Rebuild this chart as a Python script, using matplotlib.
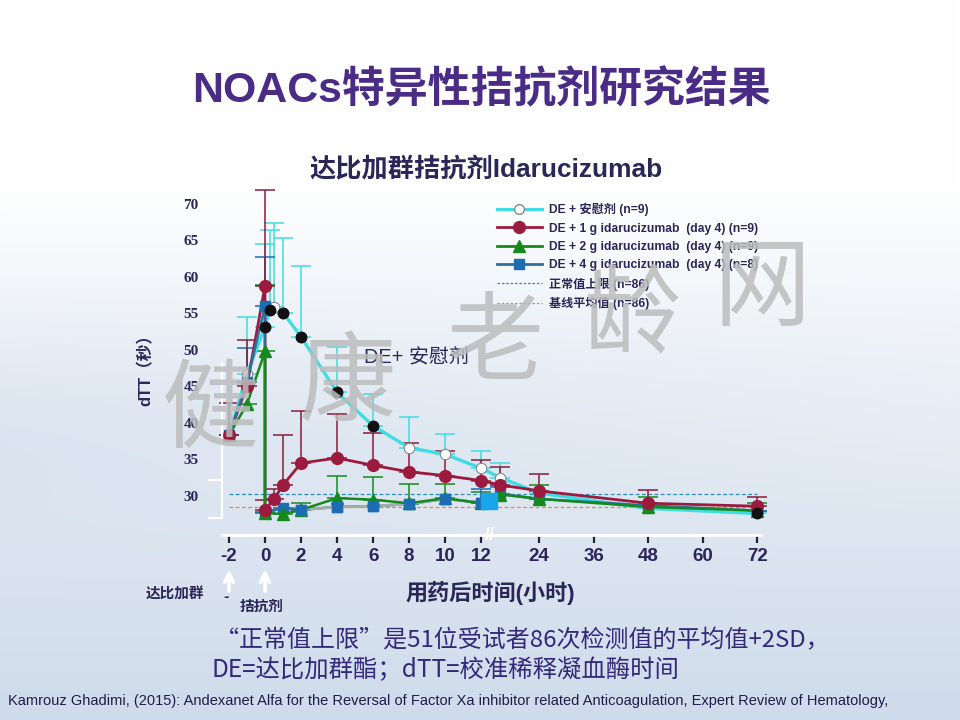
import numpy as np
import matplotlib
matplotlib.use("Agg")
import matplotlib.pyplot as plt
from matplotlib.lines import Line2D
from matplotlib.font_manager import FontProperties

plt.rcParams['font.family'] = ['Liberation Sans', 'Noto Sans CJK SC', 'DejaVu Sans']

# x axis is broken: 0-12 h stretched, 12-72 h squeezed
hour_knots = [-10, -2, 12, 24, 72, 100]
unit_knots = [-10, -2, 12, 15.22, 27.33, 34.39]

def fwd(h):
    return np.interp(h, hour_knots, unit_knots)

def inv(u):
    return np.interp(u, unit_knots, hour_knots)

xticks = [-2, 0, 2, 4, 6, 8, 10, 12, 24, 36, 48, 60, 72]
yticks = [30, 35, 40, 45, 50, 55, 60, 65, 70]
nan = np.nan

# DE + placebo
plc_t = [-2, -1, 0, 0.25, 0.5, 1, 2, 4, 6, 8, 10, 12, 16, 24, 48, 72]
plc_v = [38.3, 46.7, 53.2, 55.5, 55.9, 55.1, 51.8, 44.2, 39.6, 36.6, 35.7, 33.8, 32.5, 30.4, 28.3, 27.6]
plc_hi = [nan, 54.5, 64.5, 66.4, 67.4, 65.3, 61.5, 50.4, 43.9, 40.8, 38.5, 36.1, 34.5, nan, nan, nan]
plc_black = [0, 0, 1, 1, 0, 1, 1, 1, 1, 0, 0, 0, 0, 0, 0, 1]

# DE + 1 g idarucizumab
red_t = [-2, -1, 0, 0, 0.5, 1, 2, 4, 6, 8, 10, 12, 16, 24, 48, 72]
red_v = [38.3, 45.1, 58.8, 28.1, 29.6, 31.5, 34.5, 35.2, 34.2, 33.3, 32.8, 32.1, 31.5, 30.7, 29.0, 28.6]
red_hi = [42.8, 51.3, 71.9, 29.5, 31.0, 38.4, 41.7, 41.2, 38.6, 37.2, 36.1, 34.9, 33.9, 33.0, 30.8, 29.9]

# DE + 2 g idarucizumab
grn_t = [-2, -1, 0, 0, 1, 2, 4, 6, 8, 10, 12, 16, 24, 48, 72]
grn_v = [38.3, 42.6, 49.8, 27.7, 27.5, 28.1, 29.7, 29.5, 29.0, 29.7, 29.0, 30.2, 29.6, 28.5, 28.0]
grn_hi = [nan, nan, 58.9, nan, nan, 29.1, 32.8, 32.6, 31.7, 31.6, 30.5, nan, 31.5, 29.9, 29.1]

# DE + 4 g idarucizumab
blu_t = [-2, -1, 0, 0, 1, 2, 4, 6, 8, 10, 12, 16, 24, 48, 72]
blu_v = [38.3, 45.6, 56.0, 27.8, 28.3, 28.1, 28.5, 28.6, 28.9, 29.6, 29.1, 30.3, 29.6, 28.7, 28.0]
blu_hi = [nan, 50.3, 62.7, nan, nan, nan, nan, nan, nan, nan, 31.0, 31.2, nan, nan, nan]

upper_normal = 30.3
baseline_mean = 28.5
stray_t = [13.7]
stray_v = [29.25]

legend_labels = ['DE + 安慰剂 (n=9)',
                 'DE + 1 g idarucizumab  (day 4) (n=9)',
                 'DE + 2 g idarucizumab  (day 4) (n=9)',
                 'DE + 4 g idarucizumab  (day 4) (n=8)',
                 '正常值上限 (n=86)',
                 '基线平均值 (n=86)']

c_cyan = '#3ddde3'
c_red = '#9c1a3e'
c_grn = '#158a1c'
c_blu = '#1c6db3'
navy = '#2a2657'

W, H = 960, 720
fig = plt.figure(figsize=(9.6, 7.2), dpi=100)

def fx(x):
    return x / W

def fy(y):
    return 1 - y / H

# background gradient
gy = np.linspace(0, 1, 360)[:, None]
gx = np.linspace(0, 1, 480)[None, :]
t = np.clip((gy - 0.26) / 0.74, 0, 1) ** 0.85
t = np.clip(t + 0.22 * np.exp(-((gy - 0.58) / 0.14) ** 2) * (1 - gx), 0, 1)
top_c = np.array([1.0, 1.0, 1.0])
bot_c = np.array([0.81, 0.86, 0.92])
img = top_c[None, None, :] * (1 - t[..., None]) + bot_c[None, None, :] * t[..., None]
bg = fig.add_axes([0, 0, 1, 1], zorder=-5)
bg.imshow(img, aspect='auto', extent=[0, 1, 0, 1])
bg.axis('off')

ax = fig.add_axes([fx(211), fy(535.4), fx(558), 353.4 / H])
ax.set_facecolor('none')
ax.set_xscale('function', functions=(fwd, inv))
ax.set_xlim(-3, 74.6)
ax.set_ylim(24.6, 73)

def upper(v, hi):
    v = np.array(v, float)
    hi = np.array(hi, float)
    return [np.zeros_like(v), hi - v]

# reference lines
ax.hlines(upper_normal, -2, 72, colors='#2a8cb4', linestyles=(0, (3, 2)), lw=0.9, zorder=2)
ax.hlines(baseline_mean, -2, 72, colors='#e8893a', linestyles=(0, (3, 2)), lw=0.9, zorder=2)

# error bars (upper only)
ax.errorbar(plc_t, plc_v, yerr=upper(plc_v, plc_hi), fmt='none', ecolor=c_cyan, elinewidth=1.1, capsize=7, capthick=1.1, zorder=3)
ax.errorbar(grn_t, grn_v, yerr=upper(grn_v, grn_hi), fmt='none', ecolor=c_grn, elinewidth=1.1, capsize=7, capthick=1.1, zorder=3)
ax.errorbar(blu_t, blu_v, yerr=upper(blu_v, blu_hi), fmt='none', ecolor=c_blu, elinewidth=1.1, capsize=7, capthick=1.1, zorder=3)
ax.errorbar(red_t, red_v, yerr=upper(red_v, red_hi), fmt='none', ecolor='#8a1c3a', elinewidth=1.1, capsize=7, capthick=1.1, zorder=3)

# series
ax.plot(plc_t, plc_v, color=c_cyan, lw=2.4, marker='o', ms=7.5, mfc='white', mec='#888888', mew=0.8, zorder=4)
blk = np.array(plc_black, bool)
ax.plot(np.array(plc_t)[blk], np.array(plc_v)[blk], ls='none', marker='o', ms=7.5, color='#111111', zorder=7)
ax.plot(red_t, red_v, color=c_red, lw=2.0, zorder=4.5)
ax.plot(blu_t, blu_v, color='#2f6f9e', lw=1.8, marker='s', ms=6.5, mfc=c_blu, mec=c_blu, zorder=5)
mid = slice(5, 11)
ax.plot(blu_t[mid], blu_v[mid], color='#a4aea6', lw=2.0, zorder=5.1)
ax.plot(grn_t, grn_v, color=c_grn, lw=1.8, marker='^', ms=8, zorder=5.3)
ax.plot(blu_t[mid], blu_v[mid], ls='none', marker='s', ms=6.5, color=c_blu, zorder=5.6)
ax.plot(red_t, red_v, ls='none', marker='o', ms=8.5, color=c_red, zorder=6)
ax.plot(stray_t, stray_v, ls='none', marker='s', ms=12, color='#19a5ea', zorder=6.5)

note_pl = ax.text(5.5, 48.9, 'DE+ 安慰剂', fontsize=13, color=navy, va='center', zorder=8)

# axes styling
for s in ['top', 'right', 'left']:
    ax.spines[s].set_visible(False)
ax.spines['bottom'].set_color('white')
ax.spines['bottom'].set_linewidth(2)
ax.spines['bottom'].set_bounds(-2.4, 72.8)
ax.set_xticks(xticks)
ax.set_xticklabels([str(v) for v in xticks])
ax.set_yticks(yticks)
ax.set_yticklabels([str(v) for v in yticks])
ax.xaxis.set_minor_locator(matplotlib.ticker.NullLocator())
ax.tick_params(axis='x', direction='out', length=6, width=1.6, color='#23233a', pad=3,
               labelsize=13.5, labelcolor=navy)
ax.tick_params(axis='y', length=0, pad=9, labelsize=11, labelcolor=navy)
for lb in ax.get_xticklabels():
    lb.set_fontweight('bold')
for lb in ax.get_yticklabels():
    lb.set_fontfamily(['Liberation Serif', 'DejaVu Serif'])
    lb.set_fontweight('bold')
ax.text(13.8, 24.6, '//', color='white', fontsize=13, fontweight='bold', ha='center', va='center', clip_on=False)

# white bracket on the y side
for xs, ys in [([222, 222], [363, 518]), ([209, 222], [518, 518]), ([209, 222], [480, 480])]:
    fig.add_artist(Line2D([fx(x) for x in xs], [fy(y) for y in ys], color='white', lw=1.6, zorder=1))

# arrows for dosing
xt = ax.get_xaxis_transform()
for h0 in [-2, 0]:
    ax.annotate('', xy=(h0, -0.088), xytext=(h0, -0.165), xycoords=xt, textcoords=xt,
                arrowprops=dict(arrowstyle='->', color='white', lw=2.6, mutation_scale=16))

# legend
hnd = [Line2D([], [], color=c_cyan, lw=2.2, marker='o', ms=7, mfc='white', mec='#888888'),
       Line2D([], [], color=c_red, lw=2.0, marker='o', ms=8.5),
       Line2D([], [], color=c_grn, lw=2.0, marker='^', ms=8.5),
       Line2D([], [], color='#2f6f9e', lw=2.0, marker='s', ms=6.5, mfc=c_blu, mec=c_blu),
       Line2D([], [], color='#2a8cb4', lw=0.9, ls=(0, (2, 1.5))),
       Line2D([], [], color='#e8893a', lw=0.9, ls=(0, (2, 1.5)))]
lp = FontProperties(family=['Liberation Sans', 'Noto Sans CJK SC'], weight='bold', size=8.7)
leg = fig.legend(hnd, legend_labels, loc='upper left', bbox_to_anchor=(fx(497), fy(203)),
                 frameon=False, prop=lp, handlelength=3.7, handletextpad=0.6,
                 labelspacing=0.52, borderpad=0, borderaxespad=0)
for tx in leg.get_texts():
    tx.set_color(navy)

# texts
cjk_b = ['Liberation Sans', 'Noto Sans CJK SC']
title = fig.text(fx(481), fy(91), 'NOACs特异性拮抗剂研究结果', ha='center', va='center',
                 fontsize=31, fontweight='bold', color='#4a2c86', family=cjk_b)
sub = fig.text(fx(486), fy(170), '达比加群拮抗剂Idarucizumab', ha='center', va='center',
               fontsize=16, fontweight='bold', color=navy, family=cjk_b)
ylab = fig.text(fx(146), fy(366), 'dTT（秒）', ha='center', va='center', rotation=90,
                fontsize=12, fontweight='bold', color=navy, family=cjk_b)
xlab = fig.text(fx(490), fy(593), '用药后时间(小时)', ha='center', va='center',
                fontsize=12.5, fontweight='bold', color=navy, family=cjk_b)
fig.text(fx(175), fy(595), '达比加群', ha='center', va='center', fontsize=10.5,
         fontweight='bold', color=navy, family=cjk_b)
fig.text(fx(226), fy(596), '-', ha='center', va='center', fontsize=12,
         fontweight='bold', color='#1d3f6e')
fig.text(fx(262), fy(607), '拮抗剂', ha='center', va='center', fontsize=10.5,
         fontweight='bold', color=navy, family=cjk_b)
note1 = fig.text(fx(215), fy(641), '“正常值上限”是51位受试者86次检测值的平均值+2SD，', ha='left', va='center',
                 fontsize=16, fontweight='medium', color='#33287a', family=['Noto Sans CJK SC', 'DejaVu Sans'])
note2 = fig.text(fx(212), fy(670), 'DE=达比加群酯；dTT=校准稀释凝血酶时间', ha='left', va='center',
                 fontsize=16, fontweight='medium', color='#33287a', family=['Noto Sans CJK SC', 'DejaVu Sans'])
cite = fig.text(fx(8), fy(701), 'Kamrouz Ghadimi, (2015): Andexanet Alfa for the Reversal of Factor Xa inhibitor related Anticoagulation, Expert Review of Hematology,',
                ha='left', va='center', fontsize=9, color='#1f1c4a', family=['Liberation Sans'])

# watermark
for ch, x, y in [('健', 210, 412), ('康', 348, 385), ('老', 495, 345), ('龄', 632, 318), ('网', 762, 290)]:
    fig.text(fx(x), fy(y), ch, ha='center', va='center', fontsize=70, color='#bcbcbc',
             alpha=0.85, family=['Noto Sans CJK SC'], zorder=20)

renderer = fig.canvas.get_renderer()

def fit_width(t, width_px):
    w = t.get_window_extent(renderer).width
    t.set_fontsize(t.get_fontsize() * width_px / w)

fit_width(title, 578)
fit_width(sub, 352)
fit_width(xlab, 170)
fit_width(note1, 615)
fit_width(note2, 468)
fit_width(cite, 877)
fit_width(note_pl, 105)

fig.savefig('out.png', dpi=100)
